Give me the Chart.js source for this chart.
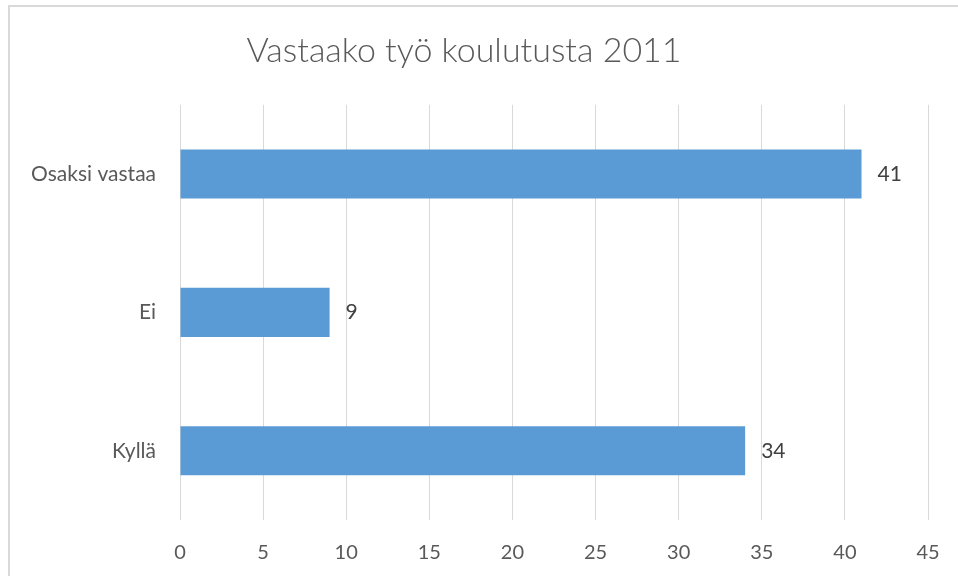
<!DOCTYPE html>
<html lang="fi">
<head>
<meta charset="utf-8">
<title>Vastaako työ koulutusta 2011</title>
<script src="https://cdn.jsdelivr.net/npm/chart.js@4.4.1/dist/chart.umd.min.js"></script>
<style>
  html, body { margin: 0; padding: 0; background: #fff; }
  .wrap { position: relative; width: 958px; height: 576px; overflow: hidden; }
  .frame {
    position: absolute; left: 8px; top: 5px; width: 980px; height: 600px;
    border-top: 2px solid #d9d9d9; border-left: 2px solid #d9d9d9;
  }
  canvas { position: absolute; left: 0; top: 0; }
</style>
</head>
<body>
<div class="wrap">
  <div class="frame"></div>
  <canvas id="chart" width="958" height="576"></canvas>
</div>
<script>
// kategoriat ylhäältä alas
const categories = ["Osaksi vastaa", "Ei", "Kyllä"];
const answers = [41, 9, 34];
const xTicks = [0, 5, 10, 15, 20, 25, 30, 35, 40, 45];

const FONT = "Lato, 'Open Sans', sans-serif";
const barColor = "#5b9bd5";

// arvot palkkien perään
const valueLabels = {
  id: "valueLabels",
  afterDatasetsDraw(chart) {
    const ctx = chart.ctx;
    ctx.save();
    ctx.font = "21px " + FONT;
    ctx.fillStyle = "#404040";
    ctx.textAlign = "left";
    ctx.textBaseline = "middle";
    chart.getDatasetMeta(0).data.forEach((bar, i) => {
      ctx.fillText(String(answers[i]), bar.x + 16, bar.y);
    });
    ctx.restore();
  }
};

const ctx = document.getElementById("chart").getContext("2d");
new Chart(ctx, {
  type: "bar",
  data: {
    labels: categories,
    datasets: [{
      data: answers,
      backgroundColor: barColor,
      borderWidth: 0,
      categoryPercentage: 1,
      barPercentage: 0.355
    }]
  },
  options: {
    indexAxis: "y",
    responsive: false,
    animation: false,
    layout: { padding: { left: 0, right: 30, top: 0, bottom: 0 } },
    plugins: {
      legend: { display: false },
      tooltip: { enabled: false },
      title: {
        display: true,
        text: "Vastaako työ koulutusta 2011",
        color: "#595959",
        font: { family: FONT, size: 34, weight: "300" },
        padding: { top: 31, bottom: 33 }
      }
    },
    scales: {
      x: {
        min: 0,
        max: 45,
        afterBuildTicks: (axis) => { axis.ticks = xTicks.map((v) => ({ value: v })); },
        grid: { color: "#d9d9d9", lineWidth: 1, drawTicks: false },
        border: { display: false },
        ticks: { color: "#595959", font: { family: FONT, size: 20 }, padding: 21 },
        afterFit: (axis) => {
          axis.height = 56;
          axis.paddingLeft = 0;
          axis.paddingRight = 0;
        }
      },
      y: {
        grid: { display: false, drawTicks: false },
        border: { display: false },
        ticks: { color: "#595959", font: { family: FONT, size: 21 }, padding: 24 },
        afterFit: (axis) => { axis.width = 180; }
      }
    }
  },
  plugins: [valueLabels]
});
</script>
</body>
</html>
